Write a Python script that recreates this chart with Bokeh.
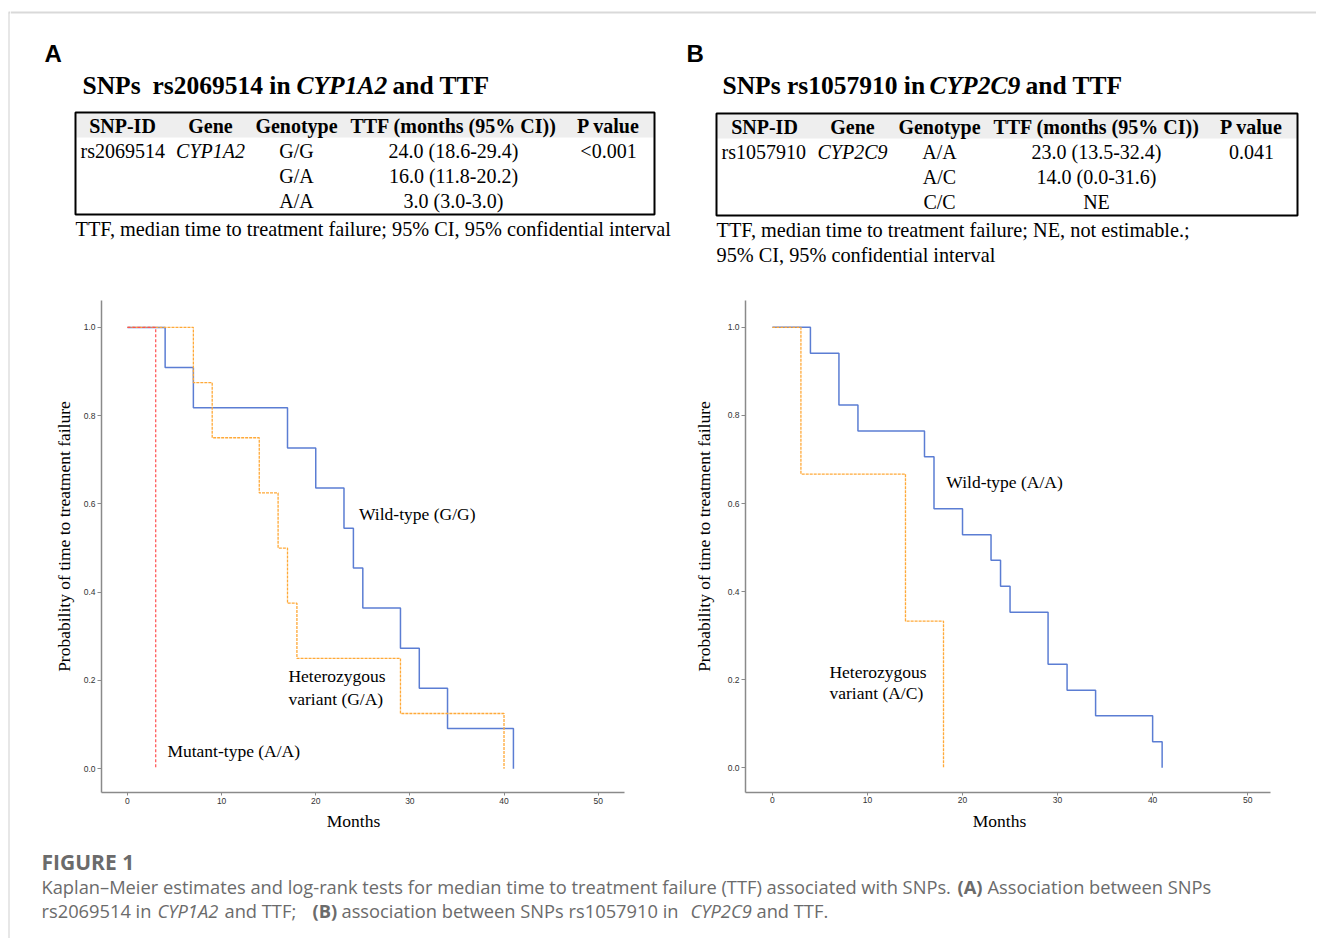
import math
from bokeh.plotting import figure
from bokeh.models import Range1d, FixedTicker, PrintfTickFormatter
from bokeh.layouts import row, column
from bokeh.core.properties import value
from bokeh.embed import file_html
from bokeh.resources import INLINE

SERIF = "Liberation Serif"
SANS = "Liberation Sans"
CAP = "Open Sans"

# ---------------- data ----------------
# Panel A: CYP1A2 rs2069514 (Kaplan-Meier steps: time in months, survival probability)
A_WT_T = [0, 4, 7, 17, 20, 23, 24, 25, 29, 31, 34, 41]
A_WT_S = [1.0, 0.909, 0.818, 0.727, 0.636, 0.545, 0.455, 0.364, 0.273, 0.182, 0.091, 0.0]
A_HET_T = [0, 7, 9, 14, 16, 17, 18, 29, 40]
A_HET_S = [1.0, 0.875, 0.75, 0.625, 0.5, 0.375, 0.25, 0.125, 0.0]
A_MUT_T = [0, 3]
A_MUT_S = [1.0, 0.0]

# Panel B: CYP2C9 rs1057910
B_WT_T = [0, 4, 7, 9, 16, 17, 20, 23, 24, 25, 29, 31, 34, 40, 41]
B_WT_S = [1.0, 0.941, 0.824, 0.765, 0.706, 0.588, 0.529, 0.471, 0.412, 0.353, 0.235, 0.176, 0.118, 0.059, 0.0]
B_HET_T = [0, 3, 14, 18]
B_HET_S = [1.0, 0.667, 0.333, 0.0]

X_TICKS = [0, 10, 20, 30, 40, 50]
Y_TICKS = [0.0, 0.2, 0.4, 0.6, 0.8, 1.0]
X_LABEL = "Months"
Y_LABEL = "Probability of time to treatment failure"

TABLE_HEAD = ["SNP-ID", "Gene", "Genotype", "TTF (months (95% CI))", "P value"]
A_SNP, A_GENE = "rs2069514", "CYP1A2"
A_GENOTYPES = ["G/G", "G/A", "A/A"]
A_TTF = ["24.0 (18.6-29.4)", "16.0 (11.8-20.2)", "3.0 (3.0-3.0)"]
A_P = "<0.001"
B_SNP, B_GENE = "rs1057910", "CYP2C9"
B_GENOTYPES = ["A/A", "A/C", "C/C"]
B_TTF = ["23.0 (13.5-32.4)", "14.0 (0.0-31.6)", "NE"]
B_P = "0.041"
A_NOTE = ["TTF, median time to treatment failure; 95% CI, 95% confidential interval"]
B_NOTE = ["TTF, median time to treatment failure; NE, not estimable.;",
          "95% CI, 95% confidential interval"]

BLUE = "#5b7dd3"
ORANGE = "#ffa938"
RED = "#ff5050"

W_TOTAL = 1316
H_TOTAL = 938
ROW_TOP, ROW_BOT = 270, 812


def txt(p, x, y, s, size, font=SERIF, style="normal", align="left",
        baseline="middle", color="black", angle=0.0):
    p.text(x=[x], y=[y], text=[s], text_font=value(font),
           text_font_size=f"{size}px", text_font_style=style,
           text_align=align, text_baseline=baseline, text_color=color,
           angle=angle)


def canvas(w, h, x0, y0):
    p = figure(width=w, height=h, x_range=Range1d(x0, x0 + w),
               y_range=Range1d(y0 + h, y0), x_axis_type=None, y_axis_type=None,
               toolbar_location=None, output_backend="svg",
               min_border_left=0, min_border_right=0, min_border_top=0,
               min_border_bottom=0)
    p.grid.visible = False
    p.outline_line_color = None
    return p


# ---------------- left border strip ----------------
strip = canvas(10, H_TOTAL, 0, 0)
strip.quad(left=[8], right=[9], top=[12], bottom=[H_TOTAL], fill_color="#d0d0d0",
           line_color=None)
strip.quad(left=[8], right=[10], top=[11], bottom=[13], fill_color="#d9d9d9",
           line_color=None)

# ---------------- header (titles + tables) ----------------
hdr = canvas(W_TOTAL - 10, ROW_TOP, 10, 0)
hdr.quad(left=[10], right=[W_TOTAL], top=[11], bottom=[13], fill_color="#d9d9d9",
         line_color=None)
txt(hdr, 44, 53, "A", 24, font=SANS, style="bold")
txt(hdr, 686, 53, "B", 24, font=SANS, style="bold")

TS = 25.5
TY = 85
txt(hdr, 82, TY, "SNPs", TS, style="bold")
txt(hdr, 152, TY, "rs2069514 in", TS, style="bold")
txt(hdr, 296, TY, "CYP1A2", TS, style="bold italic")
txt(hdr, 392, TY, "and TTF", TS, style="bold")
txt(hdr, 722, TY, "SNPs rs1057910 in", TS, style="bold")
txt(hdr, 929, TY, "CYP2C9", TS, style="bold italic")
txt(hdr, 1025, TY, "and TTF", TS, style="bold")


def table(p, left, right, top, cols, snp, gene, genos, ttfs, pval, notes):
    bottom = top + 102
    p.quad(left=[left + 1], right=[right - 1], top=[top + 1], bottom=[top + 25],
           fill_color="#eeeeee", line_color=None)
    p.quad(left=[left], right=[right], top=[top], bottom=[bottom],
           fill_color=None, line_color="black", line_width=2)
    hy = top + 13
    for c, h in zip(cols, TABLE_HEAD):
        txt(p, c, hy, h, 20, style="bold", align="center")
    ry = top + 38
    txt(p, left + 5, ry, snp, 20)
    txt(p, cols[1], ry, gene, 20, style="italic", align="center")
    txt(p, cols[4], ry, pval, 20, align="center")
    for i, (g, t) in enumerate(zip(genos, ttfs)):
        yy = ry + 25 * i
        txt(p, cols[2], yy, g, 20, align="center")
        txt(p, cols[3], yy, t, 20, align="center")
    for i, n in enumerate(notes):
        txt(p, left, bottom + 14 + 25 * i, n, 20.3)


table(hdr, 75, 654, 112, [122, 210, 296, 453, 608], A_SNP, A_GENE,
      A_GENOTYPES, A_TTF, A_P, A_NOTE)
table(hdr, 716, 1297, 113, [764, 852, 939, 1096, 1251], B_SNP, B_GENE,
      B_GENOTYPES, B_TTF, B_P, B_NOTE)


# ---------------- Kaplan-Meier panels ----------------
def km(width, bl, br, bt, bb, xr, yr, x_standoff):
    p = figure(width=width, height=ROW_BOT - ROW_TOP, x_range=Range1d(*xr),
               y_range=Range1d(*yr), toolbar_location=None, output_backend="svg",
               min_border_left=bl, min_border_right=br, min_border_top=bt,
               min_border_bottom=bb)
    p.grid.visible = False
    p.outline_line_color = None
    p.xaxis.ticker = FixedTicker(ticks=X_TICKS)
    p.yaxis.ticker = FixedTicker(ticks=Y_TICKS)
    p.yaxis.formatter = PrintfTickFormatter(format="%.1f")
    for ax in (p.xaxis, p.yaxis):
        ax.axis_line_color = "#8a8a8a"
        ax.axis_line_width = 1.5
        ax.major_tick_line_color = "#8a8a8a"
        ax.major_tick_in = 0
        ax.minor_tick_line_color = None
        ax.major_label_text_font = SANS
        ax.major_label_text_font_size = "8.5px"
        ax.major_label_text_color = "#333333"
    p.yaxis.major_tick_out = 4
    p.yaxis.major_label_standoff = 2
    p.xaxis.major_tick_out = 3
    p.xaxis.major_label_standoff = x_standoff
    return p


# y-axis titles live in narrow canvases to the left of each panel
yA = canvas(70, ROW_BOT - ROW_TOP, 10, ROW_TOP)
txt(yA, 63, 530, Y_LABEL, 17.5, align="center", angle=math.pi / 2)
kmA = km(584, 20, 40, 30, ROW_BOT - 792, (-2.76, 52.8), (-0.054, 1.061), 2)
kmA.step(A_WT_T, A_WT_S, mode="after", line_color=BLUE, line_width=1.5)
kmA.step(A_HET_T, A_HET_S, mode="after", line_color=ORANGE, line_width=1.3,
         line_dash="3 1")
kmA.step(A_MUT_T, A_MUT_S, mode="after", line_color=RED, line_width=1.2,
         line_dash="3 2")
txt(kmA, 24.6, 0.578, "Wild-type (G/G)", 17.5)
txt(kmA, 17.1, 0.209, "Heterozygous", 17.5)
txt(kmA, 17.1, 0.159, "variant (G/A)", 17.5)
txt(kmA, 4.24, 0.041, "Mutant-type (A/A)", 17.5)

yB = canvas(60, ROW_BOT - ROW_TOP, 664, ROW_TOP)
txt(yB, 703, 530, Y_LABEL, 17.5, align="center", angle=math.pi / 2)
kmB = km(W_TOTAL - 724, 19, W_TOTAL - 1270, 30, ROW_BOT - 797,
         (-2.83, 52.4), (-0.056, 1.061), 1)
kmB.step(B_WT_T, B_WT_S, mode="after", line_color=BLUE, line_width=1.5)
kmB.step(B_HET_T, B_HET_S, mode="after", line_color=ORANGE, line_width=1.3,
         line_dash="3 1")
txt(kmB, 18.3, 0.649, "Wild-type (A/A)", 17.5)
txt(kmB, 6.0, 0.218, "Heterozygous", 17.5)
txt(kmB, 6.0, 0.169, "variant (A/C)", 17.5)

# ---------------- x-axis titles + caption ----------------
cap = canvas(W_TOTAL - 10, H_TOTAL - ROW_BOT, 10, ROW_BOT)
txt(cap, 353, 820, X_LABEL, 17.5, align="center")
txt(cap, 999, 820, X_LABEL, 17.5, align="center")
CG = "#6b6b6b"
CS = 18.3
txt(cap, 41, 861, "FIGURE 1", 21, font=CAP, style="bold", color=CG)
txt(cap, 41, 886, "Kaplan\u2013Meier estimates and log-rank tests for median time to "
    "treatment failure (TTF) associated with SNPs.", CS, font=CAP, color=CG)
txt(cap, 957, 886, "(A)", CS, font=CAP, style="bold", color=CG)
txt(cap, 987, 886, "Association between SNPs", CS, font=CAP, color=CG)
txt(cap, 41, 910, "rs2069514 in", CS, font=CAP, color=CG)
txt(cap, 157, 910, "CYP1A2", CS, font=CAP, style="italic", color=CG)
txt(cap, 224, 910, "and TTF;", CS, font=CAP, color=CG)
txt(cap, 312, 910, "(B)", CS, font=CAP, style="bold", color=CG)
txt(cap, 341, 910, "association between SNPs rs1057910 in", CS, font=CAP, color=CG)
txt(cap, 690, 910, "CYP2C9", CS, font=CAP, style="italic", color=CG)
txt(cap, 756, 910, "and TTF.", CS, font=CAP, color=CG)

layout = row(strip, column(hdr, row(yA, kmA, yB, kmB), cap))
open("out.html", "w").write(file_html(layout, INLINE))
